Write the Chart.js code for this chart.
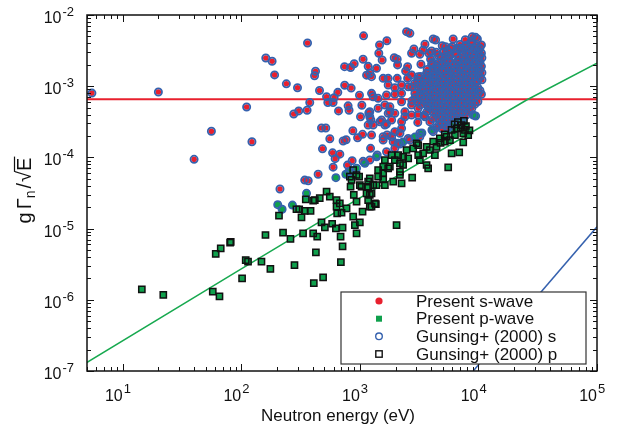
<!DOCTYPE html>
<html>
<head>
<meta charset="utf-8">
<script src="https://cdn.jsdelivr.net/npm/chart.js@4.4.0/dist/chart.umd.min.js"></script>
<style>
  body { margin: 0; background: #fff; }
  #wrap { width: 623px; height: 428px; }
</style>
</head>
<body>
<div id="wrap"><canvas id="grafico"></canvas></div>
<script>
// resonances: [energy (eV), g*Gamma_n/sqrt(E)]

// s-wave in both analyses (red dot inside a blue ring)
const sWaveBoth = [
  [5.5, 8.0e-4], [20, 8.3e-4], [111, 5.1e-4], [56, 2.33e-4], [123, 1.66e-4], [40, 9.4e-5],
  [362, 4.05e-3], [161, 2.49e-3], [182, 2.24e-3], [191, 1.44e-3], [240, 1.08e-3], [298, 9.5e-4],
  [423, 1.62e-3], [415, 1.40e-3], [457, 8.7e-4], [524, 7.1e-4], [607, 6.9e-4], [652, 8.2e-4],
  [537, 5.9e-4], [595, 5.9e-4], [378, 5.9e-4], [305, 4.5e-4], [277, 4.07e-4], [359, 4.6e-4],
  [1075, 5.1e-3], [743, 1.88e-3], [835, 1.83e-3], [896, 2.07e-3], [745, 1.03e-3], [845, 9.4e-4],
  [1065, 2.39e-3], [1175, 1.9e-3], [1140, 1.43e-3], [993, 7.45e-4], [661, 4.5e-4], [796, 5.3e-4],
  [811, 4.6e-4], [1040, 5.4e-4], [1013, 3.73e-4], [1190, 4.2e-4], [475, 2.59e-4], [516, 2.59e-4],
  [558, 1.83e-4], [723, 1.70e-4], [766, 1.77e-4], [873, 2.37e-4], [957, 1.89e-4], [1054, 2.11e-4],
  [484, 1.32e-4], [589, 1.16e-4], [678, 1.11e-4], [619, 9.6e-5], [861, 9.0e-5], [1065, 8.8e-5],
  [787, 7.8e-5], [595, 7.3e-5], [445, 5.8e-5], [343, 4.8e-5], [367, 4.7e-5], [212, 3.6e-5],
  [2477, 5.83e-3], [2642, 5.53e-3], [4155, 4.60e-3], [4355, 4.46e-3], [6125, 4.60e-3], [8870, 4.96e-3], [9470, 4.86e-3],
  [1690, 4.35e-3], [1466, 3.79e-3], [1445, 2.90e-3], [3540, 3.88e-3], [3420, 3.22e-3], [2856, 3.33e-3], [2730, 2.90e-3],
  [3207, 2.81e-3], [3819, 2.90e-3], [4027, 3.12e-3], [5284, 3.59e-3], [5143, 3.05e-3], [6010, 3.59e-3], [6980, 3.40e-3], [7690, 3.59e-3],
  [1950, 2.51e-3], [2066, 2.39e-3], [1542, 2.33e-3], [1383, 1.78e-3], [1213, 1.52e-3], [1255, 1.36e-3],
  [2081, 1.99e-3], [2528, 1.88e-3], [2432, 1.63e-3], [3273, 2.03e-3], [4027, 2.03e-3], [5715, 2.68e-3],
  [1734, 1.29e-3], [2066, 1.29e-3], [2528, 1.29e-3], [2730, 1.44e-3], [3105, 1.36e-3], [3655, 1.52e-3], [4295, 1.40e-3], [4895, 1.60e-3],
  [1573, 1.29e-3], [1734, 1.04e-3], [1972, 9.5e-4], [2249, 1.04e-3], [2558, 9.84e-4],
  [1255, 7.94e-4], [1295, 7.12e-4], [1426, 6.76e-4], [1679, 7.52e-4], [1972, 7.69e-4], [2249, 7.94e-4], [2911, 7.94e-4], [3207, 7.52e-4],
  [1626, 5.45e-4], [1791, 5.15e-4], [1213, 4.39e-4], [2249, 6.05e-4], [2399, 4.39e-4], [2730, 5.45e-4], [3105, 3.94e-4], [3767, 5.15e-4],
  [1524, 3.35e-4], [1853, 3.35e-4], [2249, 3.17e-4],
  [1426, 4.9e-4], [1791, 4.39e-4], [1239, 3.35e-4], [1679, 2.94e-4], [1231, 1.34e-4], [1175, 2.85e-4], [1295, 2.85e-4],
  [1698, 2.06e-4], [1853, 1.95e-4], [2178, 2.18e-4], [1573, 1.75e-4], [1911, 1.66e-4],
  [1400, 1.08e-4], [1679, 1.20e-4], [1972, 1.34e-4], [2178, 1.54e-4], [2642, 1.75e-4], [3207, 1.95e-4], [4155, 2.30e-4],
  [1213, 3.73e-4], [1476, 3.17e-4], [1734, 4.16e-4], [1255, 2.06e-4], [1626, 2.85e-4], [1573, 1.95e-4], [1972, 2.30e-4], [2249, 2.56e-4], [2399, 3.73e-4],
  [1213, 9.2e-5], [2105, 1.58e-4], [2558, 1.85e-4], [2730, 3.94e-4], [3540, 3.73e-4], [3207, 2.18e-4], [1972, 4.16e-4],
  // the crowded block between 3 and 11 keV
  [7750, 4.5e-3], [8700, 4.3e-3], [9800, 4.6e-3],
  [4950, 3.7e-3], [7000, 3.85e-3], [7900, 3.75e-3], [8800, 3.9e-3], [9700, 3.7e-3], [10600, 3.8e-3],
  [4400, 3.0e-3], [5500, 3.1e-3], [6300, 2.95e-3], [7800, 3.05e-3], [8900, 2.95e-3], [9900, 3.1e-3], [10600, 2.9e-3],
  [3950, 2.4e-3], [4850, 2.45e-3], [5600, 2.35e-3], [6900, 2.45e-3], [7800, 2.35e-3], [8700, 2.45e-3], [10000, 2.4e-3], [10700, 2.5e-3],
  [4400, 1.9e-3], [4950, 1.95e-3], [5500, 1.88e-3], [6250, 1.95e-3], [7000, 1.9e-3], [7900, 1.97e-3], [8800, 1.88e-3], [9800, 1.93e-3], [10600, 1.9e-3],
  [3880, 1.52e-3], [4400, 1.55e-3], [5550, 1.5e-3], [6200, 1.56e-3], [7000, 1.5e-3], [7800, 1.55e-3], [8900, 1.52e-3], [9900, 1.5e-3], [10700, 1.55e-3],
  [3080, 1.21e-3], [3480, 1.24e-3], [3920, 1.2e-3], [4350, 1.23e-3], [4900, 1.2e-3], [5550, 1.24e-3], [6200, 1.2e-3], [7000, 1.23e-3], [7850, 1.2e-3], [8800, 1.24e-3], [9900, 1.21e-3], [10700, 1.23e-3],
  [2750, 9.7e-4], [3100, 9.9e-4], [3450, 9.6e-4], [3900, 9.8e-4], [4380, 9.6e-4], [4920, 9.9e-4], [5500, 9.7e-4], [6250, 9.8e-4], [6950, 9.6e-4], [7850, 9.9e-4], [8850, 9.7e-4], [9850, 9.6e-4],
  [3470, 7.7e-4], [3900, 7.9e-4], [4370, 7.7e-4], [4950, 7.8e-4], [5500, 7.7e-4], [6200, 7.9e-4], [7000, 7.7e-4], [7850, 7.8e-4], [8800, 7.7e-4], [9900, 7.9e-4], [10600, 7.7e-4],
  [2750, 6.2e-4], [3080, 6.1e-4], [3480, 6.3e-4], [3880, 6.1e-4], [4400, 6.2e-4], [4900, 6.3e-4], [5550, 6.1e-4], [6200, 6.2e-4], [7000, 6.1e-4], [7850, 6.3e-4], [8800, 6.2e-4], [9900, 6.1e-4],
  [3100, 4.9e-4], [3900, 5.0e-4], [4380, 4.9e-4], [4920, 5.0e-4], [5500, 4.9e-4], [6200, 5.0e-4], [7000, 4.9e-4], [7850, 5.0e-4], [8800, 4.9e-4],
  [3480, 3.9e-4], [4380, 4.0e-4], [4900, 3.9e-4], [5550, 4.0e-4], [6200, 3.9e-4], [6950, 4.0e-4], [7850, 3.9e-4],
  [3080, 3.1e-4], [3900, 3.15e-4], [4900, 3.1e-4], [5550, 3.2e-4], [6200, 3.1e-4], [7000, 3.15e-4],
  [4380, 2.6e-4], [4920, 2.55e-4], [5550, 2.6e-4],
  [5800, 3.35e-3], [6600, 3.4e-3], [7350, 3.3e-3], [8350, 3.45e-3], [9300, 3.35e-3], [10300, 3.4e-3],
  [4600, 2.7e-3], [5250, 2.65e-3], [6550, 2.72e-3], [7450, 2.68e-3], [8250, 2.75e-3], [9400, 2.66e-3], [10250, 2.7e-3],
  [4100, 2.15e-3], [4650, 2.12e-3], [5200, 2.18e-3], [5900, 2.13e-3], [6600, 2.17e-3], [7350, 2.12e-3], [8300, 2.16e-3], [9300, 2.14e-3], [10300, 2.18e-3],
  [3700, 1.72e-3], [4150, 1.7e-3], [4600, 1.74e-3], [5250, 1.7e-3], [5850, 1.73e-3], [6550, 1.71e-3], [7400, 1.74e-3], [8350, 1.7e-3], [9300, 1.73e-3], [10300, 1.71e-3],
  [3250, 1.37e-3], [3700, 1.35e-3], [4100, 1.38e-3], [4650, 1.36e-3], [5200, 1.38e-3], [5850, 1.35e-3], [6600, 1.37e-3], [7400, 1.39e-3], [8300, 1.36e-3], [9350, 1.37e-3], [10300, 1.35e-3],
  [2900, 1.09e-3], [3280, 1.1e-3], [3650, 1.08e-3], [4150, 1.1e-3], [4650, 1.08e-3], [5200, 1.1e-3], [5850, 1.08e-3], [6600, 1.1e-3], [7400, 1.09e-3], [8300, 1.08e-3], [9350, 1.1e-3],
  [3250, 8.7e-4], [3700, 8.8e-4], [4130, 8.6e-4], [4650, 8.8e-4], [5200, 8.7e-4], [5850, 8.6e-4], [6600, 8.8e-4], [7400, 8.7e-4], [8300, 8.8e-4], [9350, 8.6e-4], [10300, 8.7e-4],
  [2920, 6.9e-4], [3270, 7.0e-4], [3680, 6.9e-4], [4130, 7.0e-4], [4640, 6.9e-4], [5220, 6.95e-4], [5860, 6.9e-4], [6580, 7.0e-4], [7400, 6.9e-4], [8310, 6.95e-4], [9340, 6.9e-4],
  [3270, 5.5e-4], [3680, 5.6e-4], [4130, 5.5e-4], [4640, 5.55e-4], [5220, 5.5e-4], [5860, 5.6e-4], [6580, 5.5e-4], [7400, 5.55e-4], [8310, 5.5e-4], [9340, 5.6e-4],
  [3680, 4.4e-4], [4130, 4.45e-4], [4640, 4.4e-4], [5220, 4.45e-4], [5860, 4.4e-4], [6580, 4.42e-4], [7400, 4.4e-4], [8310, 4.45e-4],
  [4130, 3.5e-4], [4640, 3.55e-4], [5220, 3.5e-4], [5860, 3.55e-4], [6580, 3.5e-4], [7400, 3.52e-4],
  [4640, 2.85e-4], [5220, 2.82e-4], [5860, 2.85e-4]
]

// p-wave in both analyses (green square inside a black square)
const pWaveBoth = [
  [14.5, 1.40e-6], [22, 1.17e-6], [57.5, 1.30e-6], [65.5, 1.12e-6], [60.9, 4.40e-6], [67.1, 5.28e-6], [80.5, 6.34e-6], [81.5, 6.5e-6],
  [101.6, 2.00e-6], [109, 3.62e-6], [114, 3.43e-6], [148, 3.43e-6], [176, 2.71e-6], [160, 8.13e-6], [208, 1.52e-5], [225, 8.75e-6],
  [260, 7.15e-6], [281, 3.08e-6], [332, 8.59e-6], [322, 1.44e-5], [308, 1.87e-5], [343, 1.78e-5], [384, 1.78e-5], [404, 8.59e-6],
  [426, 4.65e-6], [409, 1.71e-6], [437, 7.69e-6], [490, 2.07e-6], [475, 1.22e-5], [584, 1.17e-5], [507, 1.04e-5], [628, 1.01e-5],
  [715, 1.03e-5], [688, 7.69e-6], [715, 5.64e-6], [692, 3.37e-6], [938, 8.59e-6], [908, 1.12e-5], [1000, 1.22e-5], [879, 1.47e-5],
  [1255, 2.03e-5], [1365, 2.21e-5], [701, 1.67e-5], [2040, 1.12e-5], [1054, 1.73e-5], [773, 1.93e-5], [644, 1.64e-5], [678, 2.26e-5],
  [558, 2.81e-5], [524, 3.30e-5], [459, 2.67e-5], [404, 2.47e-5], [350, 2.58e-5], [292, 1.87e-5], [636, 2.52e-5], [636, 2.03e-5], [417, 2.52e-5],
  [938, 5.66e-5], [986, 5.36e-5], [851, 4.82e-5], [835, 3.87e-5], [889, 2.97e-5], [938, 2.39e-5], [1033, 3.87e-5], [1175, 4.56e-5], [1139, 3.13e-5],
  [1000, 4.09e-5], [824, 5.36e-5], [879, 6.65e-5],
  [2249, 4.33e-5], [1911, 4.56e-5], [2178, 6.29e-5], [2317, 7.82e-5], [1972, 9.18e-5], [1791, 7.40e-5], [1573, 5.98e-5], [1426, 5.36e-5],
  [1295, 4.09e-5], [1255, 3.13e-5], [1175, 2.52e-5], [1340, 2.26e-5], [1213, 5.08e-5], [1175, 3.87e-5], [1383, 4.09e-5], [1626, 4.09e-5], [1573, 4.92e-5],
  [1213, 2.97e-5], [1213, 2.03e-5], [1426, 6.65e-5], [1573, 7.40e-5], [1734, 7.03e-5], [1626, 9.18e-5], [2105, 1.08e-4], [2178, 8.26e-5], [1853, 1.08e-4],
  [2477, 1.27e-4], [2317, 1.02e-4], [2558, 9.71e-5], [3105, 1.49e-4], [2818, 1.34e-4], [3105, 1.08e-4], [3207, 9.18e-5], [3655, 7.82e-5], [3767, 7.03e-5],
  [4155, 1.66e-4], [4437, 1.41e-4], [3900, 1.27e-4], [4295, 1.08e-4], [3655, 1.41e-4], [3420, 1.14e-4], [2763, 5.19e-5], [2178, 5.66e-5],
  [7215, 2.85e-4], [6545, 2.56e-4], [5940, 2.43e-4], [7445, 2.18e-4], [7690, 2.43e-4], [8200, 2.06e-4], [6340, 2.06e-4], [5395, 1.95e-4],
  [4730, 1.85e-4], [5215, 1.66e-4], [5750, 1.75e-4], [7445, 1.63e-4], [5940, 1.14e-4], [6885, 1.18e-4], [5560, 7.26e-5],
  [6710, 3.14e-4], [7550, 3.25e-4], [7850, 2.76e-4], [3010, 1.58e-4],
  [6300, 2.9e-4], [7100, 2.6e-4], [5200, 2.1e-4], [4800, 1.6e-4], [8400, 2.4e-4]
]

// present p-wave, Gunsing s-wave (green inside a blue ring)
const pWaveGunsingS = [
  [203, 2.17e-5], [221, 1.87e-5], [270, 2.14e-5], [355, 3.13e-5], [628, 5.19e-5], [762, 5.79e-5], [808, 6.29e-5],
  [938, 7.03e-5], [1102, 8.26e-5], [1383, 1.02e-4], [9040, 3.94e-4], [9470, 3.82e-4], [2911, 1.93e-4], [3335, 2.20e-4],
  [4055, 2.43e-4], [2306, 1.64e-4]
]

// reference lines
const levelLine = [[5, 6.56e-4], [1e5, 6.56e-4]]
const greenLine = [[4.97, 1.31e-7], [91.6, 2.48e-6], [636, 1.73e-5], [25500, 6.4e-4], [1e5, 2.1e-3]]
const blueLine = [[9040, 1e-7], [1e5, 1.06e-5]]

// axes
const xMin = 5, xMax = 1e5, yMin = 1e-7, yMax = 1e-2
const xExponents = [1, 2, 3, 4, 5]
const yExponents = [-2, -3, -4, -5, -6, -7]
const legendLabels = ['Present s-wave', 'Present p-wave', 'Gunsing+ (2000) s', 'Gunsing+ (2000) p']

const FONT = '"Liberation Sans", Arial, Helvetica, sans-serif'
const red = '#e8202e', blue = '#3561ae', green = '#0fa04c', black = '#111'

const pts = arr => arr.map(([x, y]) => ({ x, y }))

const eixos = {
  id: 'eixos',
  afterDraw(chart) {
    const c = chart.ctx
    const a = chart.chartArea
    const sx = chart.scales.x
    const sy = chart.scales.y
    c.save()
    c.strokeStyle = black
    c.fillStyle = black

    // ticks on all four sides, pointing inwards
    c.lineWidth = 1
    c.beginPath()
    for (let d = 0; d <= 5; d++) {
      for (let m = 1; m <= 9; m++) {
        const v = m * Math.pow(10, d)
        if (v < xMin || v > xMax * 1.0001) continue
        const px = Math.round(sx.getPixelForValue(v)) + 0.5
        const len = m === 1 ? 7 : 4
        c.moveTo(px, a.bottom); c.lineTo(px, a.bottom - len)
        c.moveTo(px, a.top); c.lineTo(px, a.top + len)
      }
    }
    for (let d = -7; d <= -2; d++) {
      for (let m = 1; m <= 9; m++) {
        const v = m * Math.pow(10, d)
        if (v < yMin * 0.9999 || v > yMax * 1.0001) continue
        const py = Math.round(sy.getPixelForValue(v)) + 0.5
        const len = m === 1 ? 7 : 4
        c.moveTo(a.left, py); c.lineTo(a.left + len, py)
        c.moveTo(a.right, py); c.lineTo(a.right - len, py)
      }
    }
    c.stroke()

    c.lineWidth = 1.5
    c.strokeRect(a.left, a.top, a.right - a.left, a.bottom - a.top)

    // tick labels 10^n
    c.textBaseline = 'alphabetic'
    for (const e of xExponents) {
      const px = sx.getPixelForValue(Math.pow(10, e))
      c.font = '16px ' + FONT
      c.textAlign = 'right'
      c.fillText('10', px, a.bottom + 30)
      c.font = '13px ' + FONT
      c.textAlign = 'left'
      c.fillText(String(e), px + 1, a.bottom + 22)
    }
    for (const e of yExponents) {
      const py = sy.getPixelForValue(Math.pow(10, e))
      c.font = '13px ' + FONT
      c.textAlign = 'right'
      const ew = c.measureText(String(e)).width
      c.fillText(String(e), 74, py + 1)
      c.font = '16px ' + FONT
      c.fillText('10', 74 - ew - 1, py + 8)
    }

    // axis titles
    c.font = '17px ' + FONT
    c.textAlign = 'center'
    c.fillText('Neutron energy (eV)', 338, 421)

    c.save()
    c.translate(31, 190)
    c.rotate(-Math.PI / 2)
    c.textAlign = 'left'
    const parts = [['g', 20, 0, 3], ['\u0393', 20, 0, 0], ['n', 14, 4, 2], ['/', 20, 0, 1], ['\u221A', 20, 0, 0], ['E', 20, 0, 1]]
    let total = 0
    for (const [t, s, , gap] of parts) { c.font = s + 'px ' + FONT; total += c.measureText(t).width + gap }
    let cx = -total / 2, rootEnd = 0
    for (const [t, s, dy, gap] of parts) {
      c.font = s + 'px ' + FONT
      c.fillText(t, cx, dy)
      cx += c.measureText(t).width
      if (t === '\u221A') rootEnd = cx - 1
      cx += gap
    }
    c.lineWidth = 1.2
    c.beginPath()
    c.moveTo(rootEnd, -16.5); c.lineTo(cx, -16.5)
    c.stroke()
    c.restore()

    // legend box
    const lx = 341, ly = 292, lw = 245, lh = 72
    c.fillStyle = '#fff'
    c.fillRect(lx, ly, lw, lh)
    c.strokeStyle = '#333'
    c.lineWidth = 1.2
    c.strokeRect(lx, ly, lw, lh)
    const rows = [301, 318.7, 336.3, 354]
    const mx = 379
    c.fillStyle = red
    c.beginPath(); c.arc(mx, rows[0], 3.6, 0, Math.PI * 2); c.fill()
    c.fillStyle = green
    c.fillRect(mx - 3, rows[1] - 3, 6, 6)
    c.strokeStyle = blue; c.lineWidth = 1.4
    c.beginPath(); c.arc(mx, rows[2], 3.3, 0, Math.PI * 2); c.stroke()
    c.strokeStyle = black
    c.strokeRect(mx - 3.2, rows[3] - 3.2, 6.4, 6.4)
    c.fillStyle = black
    c.font = '17px ' + FONT
    c.textAlign = 'left'
    c.textBaseline = 'middle'
    legendLabels.forEach((t, i) => c.fillText(t, 416, rows[i] + 1))
    c.restore()
  }
}

const ctx = document.getElementById('grafico')

// draw order, top to bottom: Gunsing p, Gunsing s, present p, present s, lines
new Chart(ctx, {
  type: 'scatter',
  data: {
    datasets: [
      { label: legendLabels[3], data: pts(pWaveBoth), pointStyle: 'rect',
        pointRadius: 4.4, pointBorderWidth: 1.5, pointBorderColor: black, pointBackgroundColor: 'rgba(0,0,0,0)', order: 0 },
      { label: legendLabels[2], data: pts(sWaveBoth.concat(pWaveGunsingS)),
        pointRadius: 3.6, pointBorderWidth: 1.8, pointBorderColor: blue, pointBackgroundColor: 'rgba(0,0,0,0)', order: 1 },
      { label: legendLabels[1], data: pts(pWaveBoth.concat(pWaveGunsingS)), pointStyle: 'rect',
        pointRadius: 4.4, pointBorderWidth: 0, pointBackgroundColor: green, order: 2 },
      { label: legendLabels[0], data: pts(sWaveBoth),
        pointRadius: 2.8, pointBorderWidth: 0, pointBackgroundColor: red, order: 3 },
      { data: pts(levelLine), showLine: true, pointRadius: 0, borderColor: red, borderWidth: 1.8, order: 6 },
      { data: pts(greenLine), showLine: true, pointRadius: 0, borderColor: '#17a94f', borderWidth: 1.5, order: 5 },
      { data: pts(blueLine), showLine: true, pointRadius: 0, borderColor: blue, borderWidth: 1.5, order: 4 }
    ]
  },
  options: {
    responsive: true,
    maintainAspectRatio: false,
    animation: false,
    events: [],
    layout: { padding: { left: 87, top: 15, right: 26, bottom: 57 } },
    scales: {
      x: { type: 'logarithmic', min: xMin, max: xMax, display: false },
      y: { type: 'logarithmic', min: yMin, max: yMax, display: false }
    },
    plugins: {
      legend: { display: false },
      tooltip: { enabled: false }
    }
  },
  plugins: [eixos]
})
</script>
</body>
</html>
